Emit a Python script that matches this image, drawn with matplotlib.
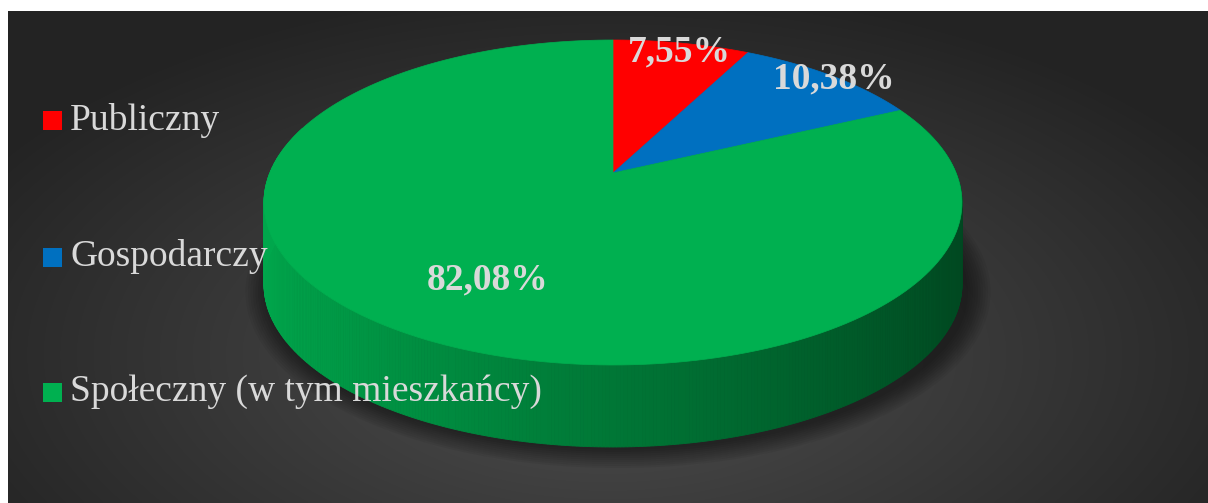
import numpy as np
import matplotlib.pyplot as plt
from matplotlib.patches import Polygon, Rectangle, Ellipse

# data
categories = ["Publiczny", "Gospodarczy", "Społeczny (w tym mieszkańcy)"]
shares = [7.55, 10.38, 82.08]
labels = ["7,55%", "10,38%", "82,08%"]
colors = ["#ff0000", "#0070c0", "#00b050"]
label_r = [0.96, 1.01, 0.67]

W, H = 1208, 503
fig = plt.figure(figsize=(W / 100, H / 100), dpi=100, facecolor="white")
ax = fig.add_axes([0, 0, 1, 1])
ax.set_xlim(0, W)
ax.set_ylim(H, 0)
ax.axis("off")

# dark radial background
px0, py0, px1, py1 = 8, 11, W, H
gx, gy = np.meshgrid(np.linspace(-1, 1, 400), np.linspace(-1, 1, 200))
d = np.clip(np.sqrt(gx ** 2 + ((gy - 0.4) / 1.25) ** 2), 0, 1.2)
lev = 0.31 - 0.17 * (d / 1.2)
img = np.dstack([lev, lev, lev])
ax.imshow(img, extent=[px0, px1, py1, py0], aspect="auto", interpolation="bilinear", zorder=0)

# 3d pie geometry (projective view of a disc)
cx, cy = 613, 173
k, a, c = 343.2, -125.74, 0.1815
depth = 82


def proj(X, Z):
    den = 1 + c * Z
    return cx + k * X / den, (a * Z + cy) / den


# shadow under the pie
for i in range(10):
    ax.add_patch(Ellipse((618, 292), 700 + i * 5, 316 + i * 4, color="black",
                         alpha=0.05, lw=0, zorder=1))

fr = np.array(shares) / sum(shares)
starts = 90 - 360 * np.concatenate([[0], np.cumsum(fr)[:-1]])
ends = starts - 360 * fr

# side wall
n = 720
phis = np.linspace(90, -270, n + 1)
for p0, p1 in zip(phis[:-1], phis[1:]):
    pm = (p0 + p1) / 2
    if np.sin(np.radians(pm)) > 0.3:
        continue
    idx = min(np.searchsorted(-ends, -pm), len(shares) - 1)
    t0, t1 = np.radians(p0), np.radians(p1)
    x0, y0 = proj(np.cos(t0), np.sin(t0))
    x1, y1 = proj(np.cos(t1), np.sin(t1))
    shade = 0.40 + 0.55 * (1 - np.cos(np.radians(pm))) / 2
    col = np.array(plt.matplotlib.colors.to_rgb(colors[idx])) * shade
    ax.add_patch(Polygon([(x0, y0), (x1, y1), (x1, y1 + depth), (x0, y0 + depth)],
                         closed=True, facecolor=col, edgecolor=col, lw=0.6, zorder=2))

# top face
for s, e, col in zip(starts, ends, colors):
    t = np.radians(np.linspace(s, e, 200))
    xs, ys = proj(np.cos(t), np.sin(t))
    pts = [proj(0, 0)] + list(zip(xs, ys))
    ax.add_patch(Polygon(pts, closed=True, facecolor=col, edgecolor=col, lw=0.5, zorder=3))

# data labels
for s, e, lab, r in zip(starts, ends, labels, label_r):
    m = np.radians((s + e) / 2 + (3 if r < 0.9 else 0))
    lx, ly = proj(r * np.cos(m), r * np.sin(m))
    ax.text(lx, ly, lab, ha="center", va="center_baseline", fontsize=27, fontweight="bold",
            family="Liberation Serif", color="#d9d9d9", zorder=5)

# legend
leg_y = [120, 257, 392]
for cat, col, yy in zip(categories, colors, leg_y):
    ax.add_patch(Rectangle((43, yy - 9.5), 19, 19, facecolor=col, lw=0, zorder=5))
    ax.text(70, yy, cat, ha="left", va="center", fontsize=27, family="Liberation Serif",
            color="#d9d9d9", zorder=5)

fig.savefig("out.png", dpi=100, facecolor="white")
